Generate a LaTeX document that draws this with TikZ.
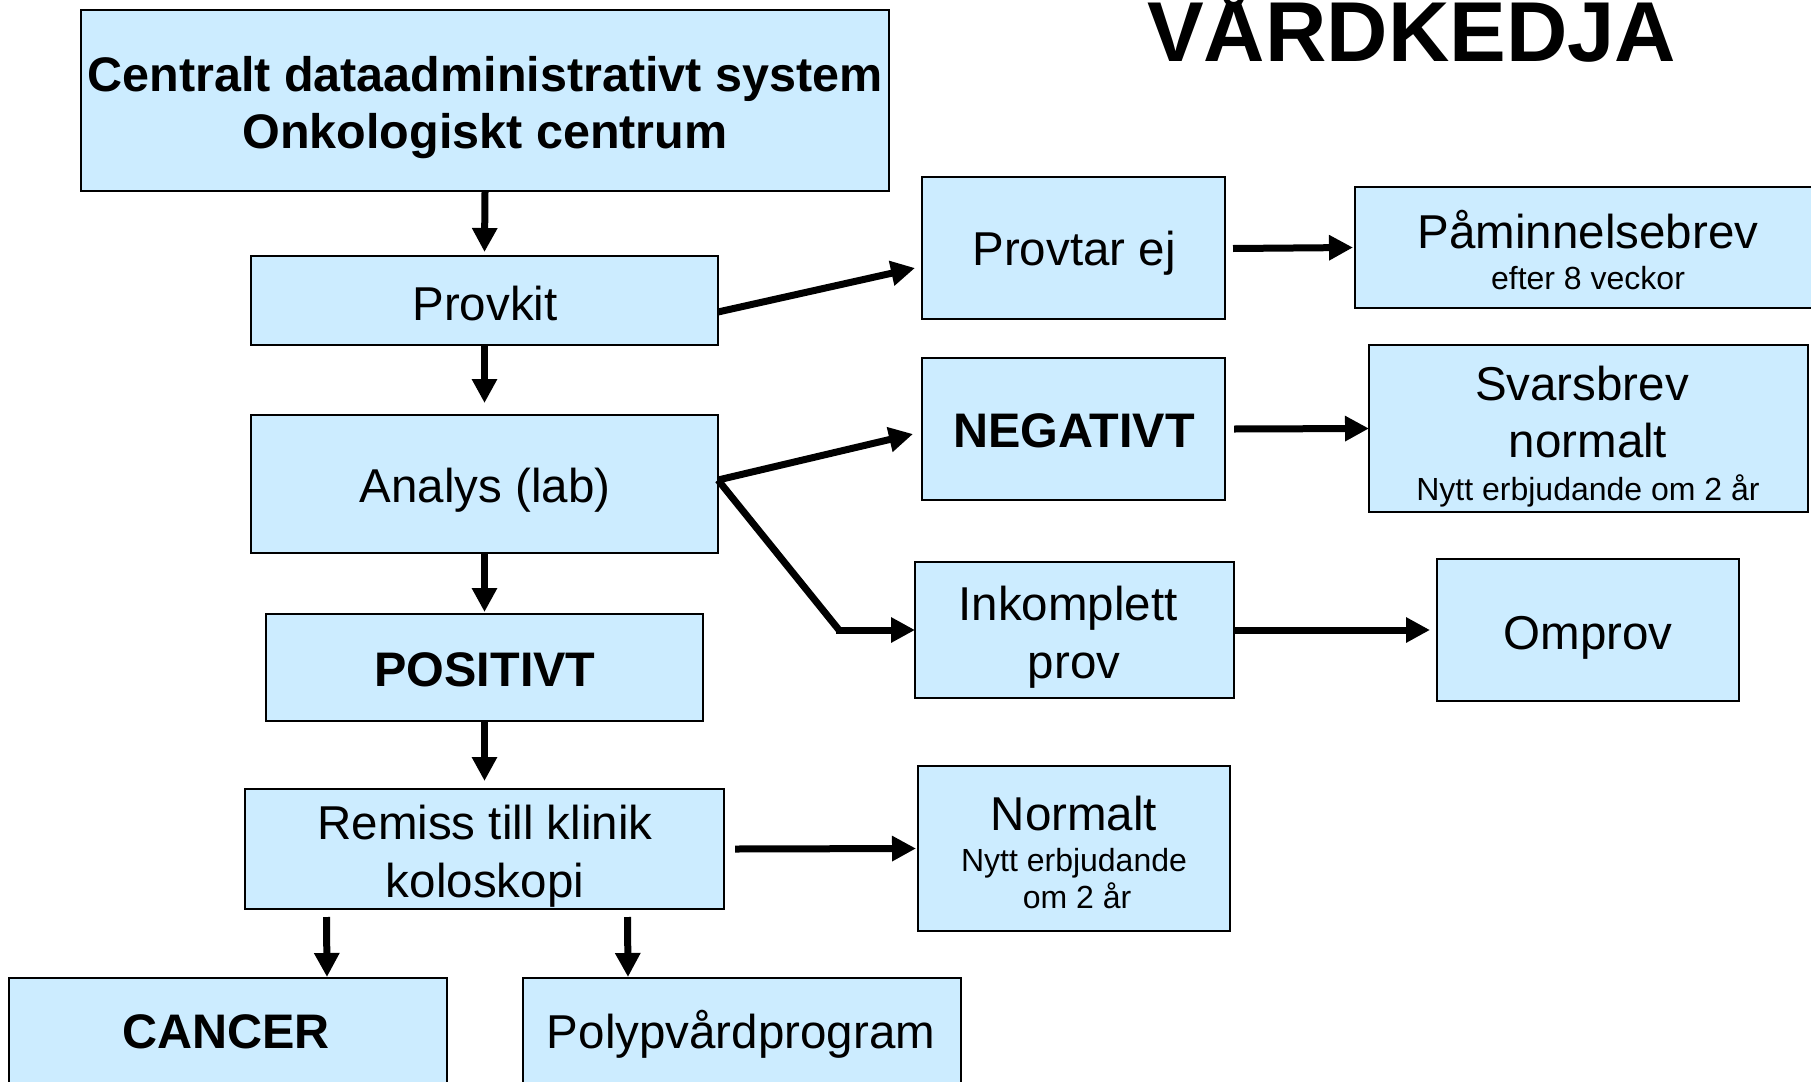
\documentclass[tikz,border=0pt]{standalone}
\usepackage{fontspec}
\setmainfont{Liberation Sans}
\usetikzlibrary{arrows.meta}
\definecolor{boxfill}{HTML}{CCECFF}
\begin{document}
\begin{tikzpicture}[x=1pt,y=-1pt,
  box/.style={draw=black, line width=2pt, fill=boxfill, inner sep=0pt, outer sep=0pt},
  txt/.style={anchor=base, inner sep=0pt, font=\fontsize{47.5}{56}\selectfont},
  btxt/.style={anchor=base, inner sep=0pt, font=\fontsize{48.5}{56}\selectfont\bfseries},
  stxt/.style={anchor=base, inner sep=0pt, font=\fontsize{32}{38}\selectfont},
  arr/.style={line width=7pt, -{Triangle[length=24pt,width=24pt]}},
  ]
\useasboundingbox (0,0) rectangle (1811,1081);
\clip (0,0) rectangle (1811,1081);
\fill[white] (0,0) rectangle (1811,1081);

% title
\node[anchor=base west, inner sep=0pt, font=\fontsize{85}{100}\selectfont\bfseries] (title) at (1147,62) {VÅRDKEDJA};

% boxes
\node[box, minimum width=808pt, minimum height=181pt] (central) at (485,100.5) {};
\node[box, minimum width=467pt, minimum height=89pt]  (provkit) at (484.5,300.5) {};
\node[box, minimum width=467pt, minimum height=138pt] (analys) at (484.5,484) {};
\node[box, minimum width=437pt, minimum height=107pt] (positivt) at (484.5,667.5) {};
\node[box, minimum width=479pt, minimum height=120pt] (remiss) at (484.5,849) {};
\node[box, minimum width=438pt, minimum height=130pt] (cancer) at (228,1043) {};
\node[box, minimum width=438pt, minimum height=130pt] (polyp) at (742,1043) {};
\node[box, minimum width=303pt, minimum height=142pt] (provtar) at (1073.5,248) {};
\node[box, minimum width=466pt, minimum height=121pt] (pamin) at (1588,247.5) {};
\node[box, minimum width=303pt, minimum height=142pt] (negativt) at (1073.5,429) {};
\node[box, minimum width=439pt, minimum height=167pt] (svars) at (1588.5,428.5) {};
\node[box, minimum width=319pt, minimum height=136pt] (inkompl) at (1074.5,630) {};
\node[box, minimum width=302pt, minimum height=142pt] (omprov) at (1588,630) {};
\node[box, minimum width=312pt, minimum height=165pt] (normalt) at (1074,848.5) {};

% texts
\node[btxt] (t-central1) at (485,91) {Centralt dataadministrativt system};
\node[btxt] (t-central2) at (485,148) {Onkologiskt centrum};
\node[txt] (t-provkit) at (485,320) {Provkit};
\node[txt] (t-analys) at (485,502) {Analys (lab)};
\node[btxt] (t-positivt) at (485,686) {POSITIVT};
\node[txt] (t-remiss1) at (485,839) {Remiss till klinik};
\node[txt] (t-remiss2) at (485,897) {koloskopi};
\node[btxt] (t-cancer) at (226,1048) {CANCER};
\node[txt] (t-polyp) at (741,1048) {Polypvårdprogram};
\node[txt] (t-provtar) at (1074,265) {Provtar ej};
\node[btxt] (t-negativt) at (1074,447) {NEGATIVT};
\node[txt] (t-inkompl1) at (1068,620) {Inkomplett};
\node[txt] (t-inkompl2) at (1074,678) {prov};
\node[txt] (t-pamin1) at (1588,248) {Påminnelsebrev};
\node[stxt] (t-pamin2) at (1588,289) {efter 8 veckor};
\node[txt] (t-svars1) at (1582,400) {Svarsbrev};
\node[txt] (t-svars2) at (1588,457) {normalt};
\node[stxt] (t-svars3) at (1588,500) {Nytt erbjudande om 2 år};
\node[txt] (t-omprov) at (1588,649) {Omprov};
\node[txt] (t-normalt1) at (1074,830) {Normalt};
\node[stxt] (t-normalt2) at (1074,871) {Nytt erbjudande};
\node[stxt] (t-normalt3) at (1077,908) {om 2 år};

% vertical connectors
\draw[arr] ([yshift=-1pt]central.south) -- ([yshift=4pt]provkit.north);
\draw[arr] ([yshift=-1pt]provkit.south) -- ([yshift=12pt]analys.north);
\draw[arr] ([yshift=-1pt]analys.south) -- ([yshift=2pt]positivt.north);
\draw[arr] ([yshift=-1pt]positivt.south) -- ([yshift=8pt]remiss.north);
\draw[arr] ([xshift=-158pt,yshift=-8pt]remiss.south) -- ([xshift=99pt,yshift=1pt]cancer.north);
\draw[arr] ([xshift=143pt,yshift=-8pt]remiss.south) -- ([xshift=-114pt,yshift=1pt]polyp.north);

% diagonal connectors
\draw[arr] ([yshift=-11.5pt]provkit.east) -- ([xshift=-7pt,yshift=-20pt]provtar.west);
\draw[arr] ([yshift=4pt]analys.east) -- ([xshift=-9pt,yshift=-5pt]negativt.west);
\coordinate (elbow) at (839,630);
\draw[line width=7pt] ([yshift=4pt]analys.east) -- (elbow);
\draw[arr] ([xshift=-3pt]elbow) -- (inkompl.west);

% horizontal connectors
\draw[arr] ([xshift=8pt,yshift=-0.5pt]provtar.east) -- ([xshift=-2pt]pamin.west);
\draw[arr] ([xshift=9pt]negativt.east) -- (svars.west);
\draw[arr] (inkompl.east) -- ([xshift=-7pt]omprov.west);
\draw[arr] ([xshift=11pt]remiss.east) -- ([xshift=-2pt]normalt.west);
\end{tikzpicture}
\end{document}
